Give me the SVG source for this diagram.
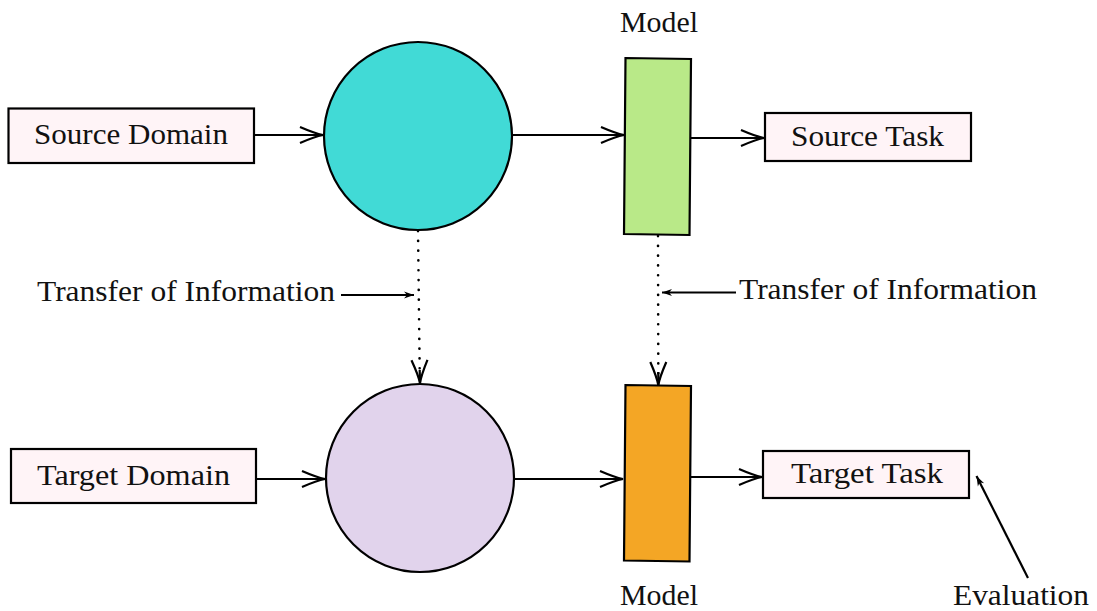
<svg xmlns="http://www.w3.org/2000/svg" width="1097" height="611" viewBox="0 0 1097 611">
  <style>
    text { font-family: "Liberation Serif", "DejaVu Serif", serif; font-size: 29px; fill: #111; }
    .box { fill: #fff4f7; stroke: #000; stroke-width: 2.2; }
    .node { stroke: #000; stroke-width: 2.2; }
    .edge { fill: none; stroke: #000; stroke-width: 2.2; }
    .dot { fill: none; stroke: #000; stroke-width: 2.6; stroke-linecap: round; stroke-dasharray: 0.1 9.7; }
    .thin { fill: none; stroke: #000; stroke-width: 2.2; }
  </style>
  <defs>
    <marker id="open" markerUnits="userSpaceOnUse" markerWidth="30" markerHeight="22" refX="0" refY="0" viewBox="-26 -11 30 22" orient="auto">
      <path d="M-23,-8 Q-8,-1.5 0,0 Q-8,1.5 -23,8" fill="none" stroke="#000" stroke-width="2.2"/>
    </marker>
    <marker id="stealth" markerUnits="userSpaceOnUse" markerWidth="14" markerHeight="10" refX="0" refY="0" viewBox="-12 -5 14 10" orient="auto">
      <path d="M0,0 L-10,-3.5 L-7,0 L-10,3.5 Z" fill="#000"/>
    </marker>
  </defs>

  <!-- connectors -->
  <g id="connectors">
    <path class="edge" d="M254,135 H323" marker-end="url(#open)"/>
    <path class="edge" d="M512,135 H624" marker-end="url(#open)"/>
    <path class="edge" d="M691,138 H764" marker-end="url(#open)"/>
    <path class="edge" d="M256,479 H325" marker-end="url(#open)"/>
    <path class="edge" d="M514,479 H623" marker-end="url(#open)"/>
    <path class="edge" d="M690,477 H762" marker-end="url(#open)"/>

    <!-- dotted transfer links -->
    <path class="dot" d="M418,231 L419.7,372"/>
    <path class="edge" d="M419.7,370 L420,383" marker-end="url(#open)"/>
    <path class="dot" d="M658,236 L658.3,374"/>
    <path class="edge" d="M658.3,372 L658.3,385" marker-end="url(#open)"/>

    <!-- annotation pointers -->
    <path class="thin" d="M341,295 H414" marker-end="url(#stealth)"/>
    <path class="thin" d="M736,292.5 H662" marker-end="url(#stealth)"/>
    <path class="thin" d="M1028,578 L976.5,476" marker-end="url(#stealth)"/>
  </g>

  <!-- domains -->
  <g id="source-domain">
    <rect class="box" x="8.5" y="108.5" width="245.5" height="54.5"/>
    <text x="34" y="144" textLength="194" lengthAdjust="spacingAndGlyphs">Source Domain</text>
  </g>
  <g id="target-domain">
    <rect class="box" x="11" y="449" width="245" height="54"/>
    <text x="37" y="485" textLength="193" lengthAdjust="spacingAndGlyphs">Target Domain</text>
  </g>

  <!-- representations -->
  <g id="source-circle">
    <circle class="node" cx="418" cy="136" r="94" fill="#41dad6"/>
  </g>
  <g id="target-circle">
    <circle class="node" cx="420" cy="478" r="94" fill="#e1d3ec"/>
  </g>

  <!-- models -->
  <g id="source-model">
    <polygon class="node" points="625.5,58 691,59 689.5,235 624,234" fill="#b9e988"/>
    <text x="620" y="32" textLength="78" lengthAdjust="spacingAndGlyphs">Model</text>
  </g>
  <g id="target-model">
    <polygon class="node" points="625.5,385 691,386 689.5,561.5 624,560.5" fill="#f4a625"/>
    <text x="620" y="605" textLength="78" lengthAdjust="spacingAndGlyphs">Model</text>
  </g>

  <!-- tasks -->
  <g id="source-task">
    <rect class="box" x="765" y="113" width="206" height="48"/>
    <text x="791" y="146" textLength="153" lengthAdjust="spacingAndGlyphs">Source Task</text>
  </g>
  <g id="target-task">
    <rect class="box" x="763" y="451" width="206" height="47"/>
    <text x="791" y="483" textLength="152" lengthAdjust="spacingAndGlyphs">Target Task</text>
  </g>

  <!-- annotations -->
  <g id="transfer-left">
    <text x="37" y="301" textLength="298" lengthAdjust="spacingAndGlyphs">Transfer of Information</text>
  </g>
  <g id="transfer-right">
    <text x="739" y="299" textLength="298" lengthAdjust="spacingAndGlyphs">Transfer of Information</text>
  </g>
  <g id="evaluation">
    <text x="953" y="605" textLength="136" lengthAdjust="spacingAndGlyphs">Evaluation</text>
  </g>
</svg>
